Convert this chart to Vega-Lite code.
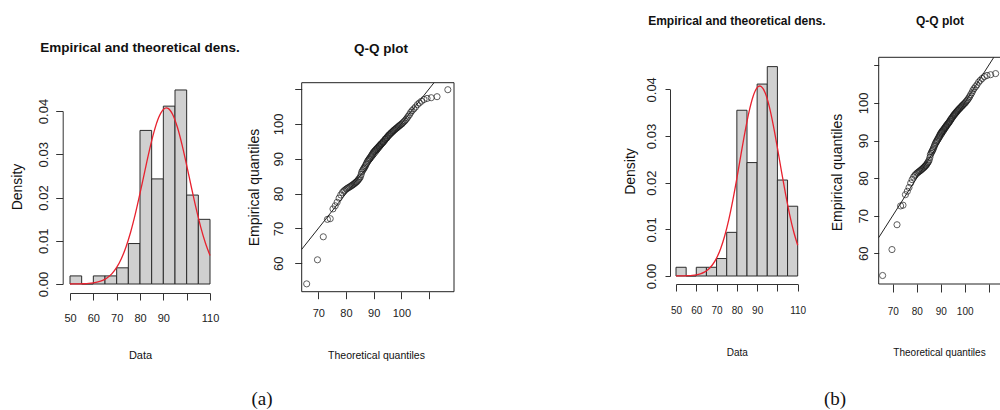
{
  "$schema": "https://vega.github.io/schema/vega-lite/v6.json",
  "width": 1000,
  "height": 410,
  "autosize": "none",
  "padding": 0,
  "background": "white",
  "config": {
    "view": {"stroke": null},
    "font": "Liberation Sans",
    "axis": {
      "grid": false,
      "domainColor": "#333333",
      "tickColor": "#333333",
      "labelColor": "#222222",
      "titleColor": "#111111",
      "labelFlush": false,
      "labelOverlap": false,
      "labelBound": false,
      "titleFontWeight": "normal",
      "labelFont": "Liberation Sans",
      "titleFont": "Liberation Sans",
      "domainWidth": 1,
      "tickWidth": 1
    }
  },
  "datasets": {
    "hist": [
      {"binStart": 50, "binEnd": 55, "density": 0.00187},
      {"binStart": 55, "binEnd": 60, "density": 0},
      {"binStart": 60, "binEnd": 65, "density": 0.00187},
      {"binStart": 65, "binEnd": 70, "density": 0.00187},
      {"binStart": 70, "binEnd": 75, "density": 0.00374},
      {"binStart": 75, "binEnd": 80, "density": 0.00935},
      {"binStart": 80, "binEnd": 85, "density": 0.03551},
      {"binStart": 85, "binEnd": 90, "density": 0.0243},
      {"binStart": 90, "binEnd": 95, "density": 0.04112},
      {"binStart": 95, "binEnd": 100, "density": 0.04486},
      {"binStart": 100, "binEnd": 105, "density": 0.02056},
      {"binStart": 105, "binEnd": 110, "density": 0.01495}
    ],
    "dens": [
      {"x": 50, "d": 0.0000057}, {"x": 52, "d": 0.0000131}, {"x": 54, "d": 0.0000291},
      {"x": 56, "d": 0.000062}, {"x": 58, "d": 0.000127}, {"x": 60, "d": 0.000248},
      {"x": 62, "d": 0.000466}, {"x": 64, "d": 0.000841}, {"x": 66, "d": 0.001454},
      {"x": 68, "d": 0.002412}, {"x": 70, "d": 0.003836}, {"x": 72, "d": 0.005855},
      {"x": 74, "d": 0.00857}, {"x": 76, "d": 0.01203}, {"x": 78, "d": 0.01621},
      {"x": 80, "d": 0.02094}, {"x": 82, "d": 0.02595}, {"x": 84, "d": 0.03085},
      {"x": 86, "d": 0.03517}, {"x": 88, "d": 0.03847}, {"x": 90, "d": 0.04035},
      {"x": 91.3, "d": 0.04071}, {"x": 92, "d": 0.04061}, {"x": 94, "d": 0.0392},
      {"x": 96, "d": 0.03629}, {"x": 98, "d": 0.03223}, {"x": 100, "d": 0.02745},
      {"x": 102, "d": 0.02243}, {"x": 104, "d": 0.01758}, {"x": 106, "d": 0.01322},
      {"x": 108, "d": 0.00953}, {"x": 110, "d": 0.0066}
    ],
    "qq": [
      {"t": 65.8, "e": 54.1}, {"t": 69.7, "e": 61.0}, {"t": 71.8, "e": 67.6}, {"t": 73.3, "e": 72.6},
      {"t": 74.3, "e": 72.8}, {"t": 75.3, "e": 75.6}, {"t": 76.1, "e": 76.5}, {"t": 76.8, "e": 77.5},
      {"t": 77.5, "e": 78.7}, {"t": 78.1, "e": 79.6}, {"t": 78.7, "e": 80.3}, {"t": 79.2, "e": 80.7},
      {"t": 79.6, "e": 81.0}, {"t": 80.1, "e": 81.3}, {"t": 80.5, "e": 81.5}, {"t": 80.9, "e": 81.7},
      {"t": 81.3, "e": 81.9}, {"t": 81.7, "e": 82.1}, {"t": 82.1, "e": 82.3}, {"t": 82.4, "e": 82.5},
      {"t": 82.8, "e": 82.7}, {"t": 83.1, "e": 82.9}, {"t": 83.4, "e": 83.1}, {"t": 83.7, "e": 83.3},
      {"t": 84.0, "e": 83.5}, {"t": 84.3, "e": 83.8}, {"t": 84.6, "e": 84.1}, {"t": 84.9, "e": 84.4},
      {"t": 85.2, "e": 84.8}, {"t": 85.5, "e": 85.5}, {"t": 85.7, "e": 86.2}, {"t": 86.0, "e": 86.6},
      {"t": 86.3, "e": 87.0}, {"t": 86.5, "e": 87.3}, {"t": 86.8, "e": 87.6}, {"t": 87.0, "e": 88.0},
      {"t": 87.3, "e": 88.4}, {"t": 87.5, "e": 88.8}, {"t": 87.8, "e": 89.2}, {"t": 88.0, "e": 89.5},
      {"t": 88.3, "e": 89.8}, {"t": 88.5, "e": 90.0}, {"t": 88.7, "e": 90.3}, {"t": 89.0, "e": 90.6},
      {"t": 89.2, "e": 90.9}, {"t": 89.5, "e": 91.2}, {"t": 89.7, "e": 91.5}, {"t": 89.9, "e": 91.8},
      {"t": 90.2, "e": 92.0}, {"t": 90.4, "e": 92.2}, {"t": 90.6, "e": 92.4}, {"t": 90.8, "e": 92.6},
      {"t": 91.1, "e": 92.8}, {"t": 91.3, "e": 93.0}, {"t": 91.5, "e": 93.2}, {"t": 91.8, "e": 93.4},
      {"t": 92.0, "e": 93.6}, {"t": 92.2, "e": 93.8}, {"t": 92.4, "e": 94.0}, {"t": 92.7, "e": 94.2},
      {"t": 92.9, "e": 94.4}, {"t": 93.2, "e": 94.6}, {"t": 93.4, "e": 94.8}, {"t": 93.6, "e": 95.0},
      {"t": 93.9, "e": 95.2}, {"t": 94.1, "e": 95.5}, {"t": 94.3, "e": 95.7}, {"t": 94.6, "e": 95.9},
      {"t": 94.8, "e": 96.1}, {"t": 95.1, "e": 96.4}, {"t": 95.3, "e": 96.6}, {"t": 95.6, "e": 96.8},
      {"t": 95.8, "e": 97.0}, {"t": 96.1, "e": 97.2}, {"t": 96.3, "e": 97.4}, {"t": 96.6, "e": 97.6},
      {"t": 96.9, "e": 97.8}, {"t": 97.1, "e": 98.0}, {"t": 97.4, "e": 98.2}, {"t": 97.7, "e": 98.4},
      {"t": 98.0, "e": 98.6}, {"t": 98.3, "e": 98.8}, {"t": 98.6, "e": 99.0}, {"t": 98.9, "e": 99.2},
      {"t": 99.2, "e": 99.4}, {"t": 99.5, "e": 99.6}, {"t": 99.8, "e": 99.8}, {"t": 100.2, "e": 100.0},
      {"t": 100.5, "e": 100.3}, {"t": 100.9, "e": 100.6}, {"t": 101.3, "e": 100.9}, {"t": 101.7, "e": 101.3},
      {"t": 102.1, "e": 101.7}, {"t": 102.5, "e": 102.2}, {"t": 103.0, "e": 102.7}, {"t": 103.4, "e": 103.3},
      {"t": 103.9, "e": 103.8}, {"t": 104.5, "e": 104.3}, {"t": 105.1, "e": 104.8}, {"t": 105.8, "e": 105.5},
      {"t": 106.5, "e": 106.0}, {"t": 107.3, "e": 106.5}, {"t": 108.2, "e": 107.0}, {"t": 109.3, "e": 107.3},
      {"t": 110.8, "e": 107.5}, {"t": 112.9, "e": 107.8}, {"t": 116.8, "e": 109.8}
    ]
  },
  "layer": [
    {
      "layer": [
        {
          "data": {"name": "hist"},
          "mark": {"type": "rect", "fill": "#d0d0d0", "stroke": "#2b2b2b", "strokeWidth": 1},
          "encoding": {
            "x": {
              "field": "binStart", "type": "quantitative",
              "scale": {"domain": [50, 110], "range": [70, 210], "nice": false, "zero": false},
              "axis": {
                "orient": "bottom", "offset": -117, "values": [50, 60, 70, 80, 90, 100, 110],
                "labelExpr": "datum.value == 100 ? '' : datum.label",
                "tickSize": 7, "labelPadding": 12, "labelAlign": "center", "labelBaseline": "top", "labelAngle": 0,
                "labelFontSize": 11,
                "title": "Data", "titleFontSize": 11,
                "titleX": 140, "titleY": 65, "titleAlign": "center", "titleBaseline": "alphabetic", "titleAngle": 0
              }
            },
            "x2": {"field": "binEnd"},
            "y": {
              "field": "density", "type": "quantitative",
              "scale": {"domain": [0, 0.04], "range": [284, 111], "nice": false, "zero": false},
              "axis": {
                "orient": "left", "offset": -62.7, "values": [0, 0.01, 0.02, 0.03, 0.04], "format": ".2f",
                "tickSize": 7, "labelPadding": 5, "labelAngle": 270, "labelAlign": "center", "labelBaseline": "bottom",
                "labelFontSize": 13,
                "title": "Density", "titleFontSize": 14,
                "titleAngle": 270, "titleX": -38, "titleY": 186.5, "titleAlign": "center", "titleBaseline": "bottom"
              }
            },
            "y2": {"datum": 0}
          }
        },
        {
          "data": {"name": "dens"},
          "mark": {"type": "line", "stroke": "#e8212e", "strokeWidth": 1.3, "interpolate": "monotone"},
          "encoding": {
            "x": {"field": "x", "type": "quantitative"},
            "y": {"field": "d", "type": "quantitative"}
          }
        },
        {
          "data": {"values": [{}]},
          "mark": {"type": "text", "fontWeight": "bold", "fontSize": 13.5, "align": "center", "baseline": "alphabetic", "color": "#111111"},
          "encoding": {
            "x": {"datum": 80},
            "y": {"datum": 0.05364},
            "text": {"value": "Empirical and theoretical dens."}
          }
        },
        {
          "data": {"values": [{}]},
          "mark": {"type": "text", "font": "Liberation Serif", "fontSize": 19, "align": "center", "baseline": "alphabetic", "color": "#111111"},
          "encoding": {
            "x": {"datum": 132.3},
            "y": {"datum": -0.02798},
            "text": {"value": "(a)"}
          }
        }
      ]
    },
    {
      "layer": [
        {
          "data": {"name": "qq"},
          "mark": {"type": "point", "shape": "circle", "filled": false, "stroke": "#1a1a1a", "strokeWidth": 1, "size": 38},
          "encoding": {
            "x": {
              "field": "t", "type": "quantitative",
              "scale": {"domain": [64, 119.03], "range": [301.7, 454], "nice": false, "zero": false},
              "axis": {
                "orient": "bottom", "offset": -118.3, "domain": false, "values": [70, 80, 90, 100, 110],
                "labelExpr": "datum.value == 110 ? '' : datum.label",
                "tickSize": 7, "labelPadding": 9, "labelAlign": "center", "labelBaseline": "top", "labelAngle": 0,
                "labelFontSize": 11,
                "title": "Theoretical quantiles", "titleFontSize": 10.5,
                "titleX": 376, "titleY": 66.3, "titleAlign": "center", "titleBaseline": "alphabetic", "titleAngle": 0
              }
            },
            "y": {
              "field": "e", "type": "quantitative",
              "scale": {"domain": [51.85, 111.81], "range": [291.7, 82.7], "nice": false, "zero": false},
              "axis": {
                "orient": "left", "offset": -301.7, "domain": false, "values": [60, 70, 80, 90, 100, 110],
                "labelExpr": "datum.value == 110 ? '' : datum.label",
                "tickSize": 7, "labelPadding": 9, "labelAngle": 270, "labelAlign": "center", "labelBaseline": "bottom",
                "labelFontSize": 13,
                "title": "Empirical quantiles", "titleFontSize": 14,
                "titleAngle": 270, "titleX": -40.5, "titleY": 187, "titleAlign": "center", "titleBaseline": "bottom"
              }
            }
          }
        },
        {
          "data": {"values": [{}]},
          "mark": {"type": "rule", "stroke": "#222222", "strokeWidth": 1},
          "encoding": {
            "x": {"datum": 64},
            "y": {"datum": 64},
            "x2": {"datum": 111.81},
            "y2": {"datum": 111.81}
          }
        },
        {
          "data": {"values": [{}]},
          "mark": {"type": "rect", "filled": false, "stroke": "#222222", "strokeWidth": 1},
          "encoding": {
            "x": {"datum": 64},
            "x2": {"datum": 119.03},
            "y": {"datum": 51.85},
            "y2": {"datum": 111.81}
          }
        },
        {
          "data": {"values": [{}]},
          "mark": {"type": "text", "fontWeight": "bold", "fontSize": 13.5, "align": "center", "baseline": "alphabetic", "color": "#111111"},
          "encoding": {
            "x": {"datum": 92.65},
            "y": {"datum": 120.47},
            "text": {"value": "Q-Q plot"}
          }
        }
      ]
    },
    {
      "layer": [
        {
          "data": {"name": "hist"},
          "mark": {"type": "rect", "fill": "#d0d0d0", "stroke": "#2b2b2b", "strokeWidth": 1},
          "encoding": {
            "x": {
              "field": "binStart", "type": "quantitative",
              "scale": {"domain": [50, 110], "range": [676, 797.7], "nice": false, "zero": false},
              "axis": {
                "orient": "bottom", "offset": -126, "values": [50, 60, 70, 80, 90, 100, 110],
                "labelExpr": "datum.value == 100 ? '' : datum.label",
                "tickSize": 7, "labelPadding": 14, "labelAlign": "center", "labelBaseline": "top", "labelAngle": 0,
                "labelFontSize": 10,
                "title": "Data", "titleFontSize": 10,
                "titleX": 736.8, "titleY": 71, "titleAlign": "center", "titleBaseline": "alphabetic", "titleAngle": 0
              }
            },
            "x2": {"field": "binEnd"},
            "y": {
              "field": "density", "type": "quantitative",
              "scale": {"domain": [0, 0.04], "range": [276, 89.3], "nice": false, "zero": false},
              "axis": {
                "orient": "left", "offset": -670, "values": [0, 0.01, 0.02, 0.03, 0.04], "format": ".2f",
                "tickSize": 5, "labelPadding": 7, "labelAngle": 270, "labelAlign": "center", "labelBaseline": "bottom",
                "labelFontSize": 13,
                "title": "Density", "titleFontSize": 14,
                "titleAngle": 270, "titleX": -32.6, "titleY": 171, "titleAlign": "center", "titleBaseline": "bottom"
              }
            },
            "y2": {"datum": 0}
          }
        },
        {
          "data": {"name": "dens"},
          "mark": {"type": "line", "stroke": "#e8212e", "strokeWidth": 1.3, "interpolate": "monotone"},
          "encoding": {
            "x": {"field": "x", "type": "quantitative"},
            "y": {"field": "d", "type": "quantitative"}
          }
        },
        {
          "data": {"values": [{}]},
          "mark": {"type": "text", "fontWeight": "bold", "fontSize": 12, "align": "center", "baseline": "alphabetic", "color": "#111111"},
          "encoding": {
            "x": {"datum": 80},
            "y": {"datum": 0.05388},
            "text": {"value": "Empirical and theoretical dens."}
          }
        },
        {
          "data": {"values": [{}]},
          "mark": {"type": "text", "font": "Liberation Serif", "fontSize": 19, "align": "center", "baseline": "alphabetic", "color": "#111111"},
          "encoding": {
            "x": {"datum": 128.4},
            "y": {"datum": -0.02764},
            "text": {"value": "(b)"}
          }
        }
      ]
    },
    {
      "layer": [
        {
          "data": {"name": "qq"},
          "mark": {"type": "point", "shape": "circle", "filled": false, "stroke": "#1a1a1a", "strokeWidth": 1, "size": 38},
          "encoding": {
            "x": {
              "field": "t", "type": "quantitative",
              "scale": {"domain": [64.17, 114.71], "range": [878.7, 1000], "nice": false, "zero": false},
              "axis": {
                "orient": "bottom", "offset": -126, "domain": false, "values": [70, 80, 90, 100, 110],
                "labelExpr": "datum.value == 110 ? '' : datum.label",
                "tickSize": 8, "labelPadding": 14, "labelAlign": "center", "labelBaseline": "top", "labelAngle": 0,
                "labelFontSize": 10,
                "title": "Theoretical quantiles", "titleFontSize": 10,
                "titleX": 939, "titleY": 71, "titleAlign": "center", "titleBaseline": "alphabetic", "titleAngle": 0
              }
            },
            "y": {
              "field": "e", "type": "quantitative",
              "scale": {"domain": [51.84, 112.13], "range": [284, 57.3], "nice": false, "zero": false},
              "axis": {
                "orient": "left", "offset": -878.7, "domain": false, "values": [60, 70, 80, 90, 100, 110],
                "labelExpr": "datum.value == 110 ? '' : datum.label",
                "tickSize": 5, "labelPadding": 3, "labelAngle": 270, "labelAlign": "center", "labelBaseline": "bottom",
                "labelFontSize": 13,
                "title": "Empirical quantiles", "titleFontSize": 14,
                "titleAngle": 270, "titleX": -34.3, "titleY": 172, "titleAlign": "center", "titleBaseline": "bottom"
              }
            }
          }
        },
        {
          "data": {"values": [{}]},
          "mark": {"type": "rule", "stroke": "#222222", "strokeWidth": 1},
          "encoding": {
            "x": {"datum": 64.17},
            "y": {"datum": 64.17},
            "x2": {"datum": 112.13},
            "y2": {"datum": 112.13}
          }
        },
        {
          "data": {"values": [{}]},
          "mark": {"type": "rect", "filled": false, "stroke": "#222222", "strokeWidth": 1},
          "encoding": {
            "x": {"datum": 64.17},
            "x2": {"datum": 119.5},
            "y": {"datum": 51.84},
            "y2": {"datum": 112.13}
          }
        },
        {
          "data": {"values": [{}]},
          "mark": {"type": "text", "fontWeight": "bold", "fontSize": 12, "align": "center", "baseline": "alphabetic", "color": "#111111"},
          "encoding": {
            "x": {"datum": 89.7},
            "y": {"datum": 120.85},
            "text": {"value": "Q-Q plot"}
          }
        }
      ]
    }
  ],
  "resolve": {
    "scale": {"x": "independent", "y": "independent"},
    "axis": {"x": "independent", "y": "independent"}
  }
}
